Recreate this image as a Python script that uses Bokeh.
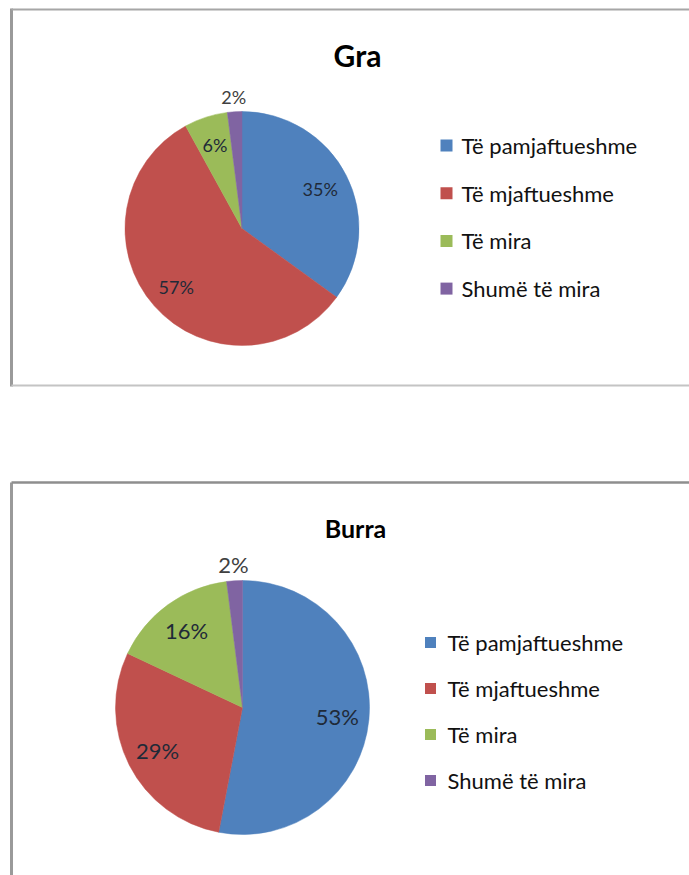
import numpy as np
from bokeh.plotting import figure
from bokeh.models import Range1d, ColumnDataSource
from bokeh.core.properties import value
from bokeh.embed import file_html
from bokeh.resources import INLINE

# ---------------- data ----------------
categories = ["Të pamjaftueshme", "Të mjaftueshme", "Të mira", "Shumë të mira"]
gra_values = [35, 57, 6, 2]
burra_values = [53, 29, 16, 2]
chart_titles = ["Gra", "Burra"]
colors = ["#4F81BD", "#C0504D", "#9BBB59", "#8064A2"]

# ---------------- layout (page pixel coordinates) ----------------
W, H = 689, 875


def Y(py):
    return H - py


layouts = [
    dict(cx=241.5, cy=228, r=117, tx=357, ty=54, tsize="30px",
         lx=446, ltx=461, ly0=145, ldy=47.7, lsize="22px", dsize="18px", sq=12),
    dict(cx=242, cy=707, r=127, tx=355, ty=527, tsize="25px",
         lx=430, ltx=447, ly0=642, ldy=46, lsize="22px", dsize="22px", sq=11),
]

p = figure(width=W, height=H, output_backend="svg", toolbar_location=None,
           x_range=Range1d(0, W), y_range=Range1d(0, H),
           x_axis_location=None, y_axis_location=None, min_border=0)
p.grid.visible = False
p.outline_line_color = None
p.background_fill_color = "white"
p.border_fill_color = "white"

# chart frames
p.line([11, 11], [Y(8), Y(386)], line_color="#9a9a9a", line_width=3)
p.line([11, 700], [Y(9), Y(9)], line_color="#a6a6a6", line_width=2)
p.line([11, 700], [Y(385), Y(385)], line_color="#c4c4c4", line_width=2)
p.line([11, 11], [Y(482), Y(900)], line_color="#9a9a9a", line_width=3)
p.line([11, 700], [Y(482), Y(482)], line_color="#8e8e8e", line_width=2.5)

for vals, title, L in zip([gra_values, burra_values], chart_titles, layouts):
    v = np.array(vals, dtype=float)
    frac = v / v.sum()
    cum_end = np.cumsum(frac)
    cum_start = cum_end - frac
    start = np.pi / 2 - 2 * np.pi * cum_start
    end = np.pi / 2 - 2 * np.pi * cum_end
    cx, cy, r = L["cx"], Y(L["cy"]), L["r"]
    src = ColumnDataSource(dict(start=start, end=end, color=colors, cat=categories))
    p.wedge(x=cx, y=cy, radius=r, start_angle="start", end_angle="end",
            direction="clock", fill_color="color", line_color="color",
            line_width=0.5, source=src)

    # data labels
    mid = np.pi / 2 - 2 * np.pi * (cum_start + frac / 2)
    rf = np.where(v >= 5, 0.75, 1.13)
    lx = cx + rf * r * np.cos(mid)
    ly = cy + rf * r * np.sin(mid)
    lab_col = ["#1f2a38" if f >= 0.05 else "#404040" for f in frac]
    p.text(x=lx, y=ly, text=[f"{int(round(x))}%" for x in v],
           text_font=value("Lato"), text_font_size=L["dsize"],
           text_align="center", text_baseline="middle", text_color=lab_col)

    # title
    p.text(x=[L["tx"]], y=[Y(L["ty"])], text=[title], text_font=value("Lato"),
           text_font_style="bold", text_font_size=L["tsize"],
           text_align="center", text_baseline="alphabetic", text_color="#000000")

    # legend
    n = len(categories)
    ys = [Y(L["ly0"] + i * L["ldy"]) for i in range(n)]
    p.scatter(x=[L["lx"]] * n, y=ys, marker="square", size=L["sq"],
              fill_color=colors, line_color=None)
    p.text(x=[L["ltx"]] * n, y=ys, text=categories, text_font=value("Lato"),
           text_font_size=L["lsize"], text_align="left", text_baseline="middle",
           text_color="#111111")

open("out.html", "w").write(file_html(p, INLINE))
